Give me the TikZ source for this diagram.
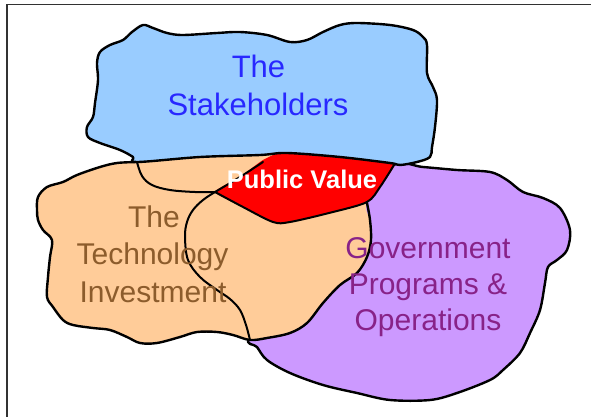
\documentclass[tikz,border=0pt]{standalone}
\usepackage{fontspec}
\setmainfont{Liberation Sans}
\begin{document}
\begin{tikzpicture}[x=1pt,y=-1pt,
  outline/.style={line width=2.4pt,line join=round,line cap=round},
  inner line/.style={line width=2pt,line cap=round,line join=round},
  blob/.style={smooth cycle,tension=0.55},
  labeltext/.style={inner sep=0pt,anchor=base,font=\fontsize{30}{36}\selectfont}]
\definecolor{skyfill}{RGB}{153,204,255}
\definecolor{peachfill}{RGB}{255,204,153}
\definecolor{lilacfill}{RGB}{204,153,255}
\definecolor{skytext}{RGB}{40,40,255}
\definecolor{browntext}{RGB}{140,92,44}
\definecolor{plumtext}{RGB}{136,34,136}
\definecolor{framegray}{RGB}{50,50,50}

\useasboundingbox (0,0) rectangle (591,417);
\fill[white] (0,0) rectangle (591,417);

% frame
\coordinate (fb) at (7,417);
\coordinate (fc) at (7,4.5);
\coordinate (fr) at (591,4.5);
\draw[framegray,line width=1.6pt] (fb) -- (fc) -- (fr);

% government programs blob
\draw[outline,fill=lilacfill] plot[blob] coordinates {
 (393,165) (423,167) (457,170) (490,172) (507,180) (523,192) (543,198)
 (560,208) (570,230) (567,250) (557,260) (548,267) (545,283) (540,310)
 (530,333) (520,353) (503,370) (490,380) (457,393) (430,400) (390,400)
 (357,393) (323,385) (290,373) (267,360) (257,347) (250,338) (300,300) (350,200)};

% technology blob (fill, closing under the stakeholders blob)
\fill[peachfill] plot[blob] coordinates {
 (137,160) (117,163) (100,167) (77,175) (63,182) (47,187) (38,197) (37,210)
 (38,220) (43,230) (52,240) (50,257) (48,277) (47,297) (53,307) (63,320)
 (73,325) (93,328) (110,330) (127,337) (140,343) (157,343) (180,337)
 (197,332) (217,332) (233,335) (250,340) (267,338) (290,333) (307,323)
 (323,303) (340,285) (357,273) (367,257) (371,240) (370,220) (367,203)
 (392,162) (330,150) (200,150)};
\draw[outline] plot[smooth,tension=0.55] coordinates {
 (137,162) (117,163) (100,167) (77,175) (63,182) (47,187) (38,197) (37,210)
 (38,220) (43,230) (52,240) (50,257) (48,277) (47,297) (53,307) (63,320)
 (73,325) (93,328) (110,330) (127,337) (140,343) (157,343) (180,337)
 (197,332) (217,332) (233,335) (250,340) (267,338) (290,333) (307,323)
 (323,303) (340,285) (357,273) (367,257) (371,240) (370,220) (367,203)};

% public value region
\fill[red] plot[smooth cycle,tension=0.3] coordinates {
 (215,192) (240,177) (263,160) (287,150) (330,152) (395,160)
 (380,187) (367,202) (333,212) (290,222) (273,222) (243,207)};
\draw[inner line] plot[smooth,tension=0.5] coordinates {
 (215,192) (243,207) (273,222) (290,222) (333,212) (367,202) (380,187) (394,165)};
\draw[inner line] plot[smooth,tension=0.5] coordinates {
 (215,192) (240,177) (263,162)};

% inner curves of the overlap
\draw[inner line] plot[smooth,tension=0.6] coordinates {
 (137,162) (142,176) (152,185) (170,190) (195,192) (215,192)};
\draw[inner line] plot[smooth,tension=0.6] coordinates {
 (215,192) (203,200) (193,210) (187,222) (185,237) (188,260) (200,277)
 (217,290) (230,299) (240,310) (246,325) (250,340)};

% stakeholders blob
\draw[outline,fill=skyfill] plot[blob] coordinates {
 (143,25) (153,28) (167,33) (183,35) (217,33) (240,32) (267,35) (290,42)
 (307,40) (323,32) (340,25) (357,23) (390,25) (413,30) (423,37) (427,45)
 (427,73) (433,87) (437,100) (435,127) (432,147) (430,157) (417,162)
 (400,165) (390,163) (340,157) (287,153) (260,155) (200,157) (137,162)
 (133,157) (120,150) (100,143) (88,137) (87,127) (93,117) (95,103)
 (98,80) (97,63) (100,52) (110,45) (123,40) (132,32)};

% labels
\node[labeltext,skytext,font=\fontsize{31}{37}\selectfont] (sh1) at (258.5,78) {The};
\node[labeltext,skytext,font=\fontsize{31}{37}\selectfont] (sh2) at (258,115) {Stakeholders};
\node[labeltext,browntext] (ti1) at (154,227) {The};
\node[labeltext,browntext] (ti2) at (152.5,264) {Technology};
\node[labeltext,browntext] (ti3) at (153,302) {Investment};
\node[labeltext,plumtext] (gp1) at (428,258) {Government};
\node[labeltext,plumtext] (gp2) at (428,294) {Programs \&};
\node[labeltext,plumtext] (gp3) at (428,330) {Operations};
\node[labeltext,white,font=\fontsize{25.5}{30}\selectfont\bfseries] (pv) at (302,188) {Public Value};
\end{tikzpicture}
\end{document}
